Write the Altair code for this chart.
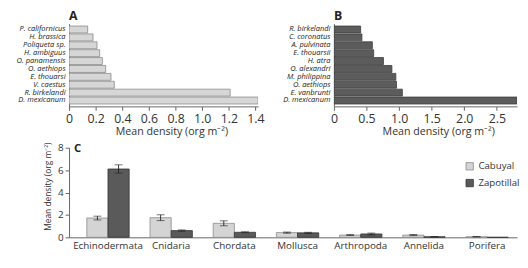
import altair as alt
import pandas as pd

# Panel A (Cabuyal species)
a_species = ["P. californicus", "H. brassica", "Poliqueta sp.", "H. ambiguus", "O. panamensis",
             "O. aethiops", "E. thouarsi", "V. caestus", "R. birkelandi", "D. mexicanum"]
a_density = [0.14, 0.18, 0.21, 0.23, 0.25, 0.275, 0.315, 0.34, 1.21, 1.42]

# Panel B (Zapotillal species)
b_species = ["R. birkelandi", "C. coronatus", "A. pulvinata", "E. thouarsii", "H. atra",
             "O. alexandri", "M. philippina", "O. aethiops", "E. vanbrunti", "D. mexicanum"]
b_density = [0.41, 0.43, 0.59, 0.61, 0.76, 0.89, 0.95, 0.96, 1.05, 2.81]

# Panel C (phyla)
phyla = ["Echinodermata", "Cnidaria", "Chordata", "Mollusca", "Arthropoda", "Annelida", "Porifera"]
sites = ["Cabuyal", "Zapotillal"]
cab_mean = [1.72, 1.75, 1.25, 0.42, 0.20, 0.20, 0.05]
cab_err = [0.17, 0.26, 0.22, 0.05, 0.04, 0.05, 0.02]
zap_mean = [6.10, 0.60, 0.45, 0.40, 0.30, 0.05, 0.0]
zap_err = [0.37, 0.06, 0.04, 0.05, 0.08, 0.02, 0.0]

a_ticks = [0, 0.2, 0.4, 0.6, 0.8, 1.0, 1.2, 1.4]
b_ticks = [0, 0.5, 1.0, 1.5, 2.0, 2.5]
c_ticks = [0, 2, 4, 6, 8]

XTITLE = "Mean density (org m\u207b\u00b2)"
LBL = "datum.value == 0 ? '0' : format(datum.value, '.1f')"


def species_panel(species, dens, letter, fill, stroke, xmax, ticks, width, title_x):
    df = pd.DataFrame({"species": species, "density": dens})
    return alt.Chart(
        df,
        title=alt.Title(letter, anchor="start", frame="group", fontSize=12.5,
                        fontWeight="bold", offset=1, color="#222"),
    ).mark_bar(fill=fill, stroke=stroke, strokeWidth=0.8, clip=True).encode(
        y=alt.Y("species:N", sort=species, title=None,
                scale=alt.Scale(paddingInner=0.12, paddingOuter=0.3),
                axis=alt.Axis(labelFontStyle="italic", labelFontSize=7.6, ticks=False,
                              labelPadding=4, labelColor="#222", labelOverlap=False)),
        x=alt.X("density:Q", scale=alt.Scale(domain=[0, xmax], nice=False), title=XTITLE,
                axis=alt.Axis(values=ticks, labelExpr=LBL, labelFontSize=12.5, tickSize=4,
                              labelPadding=2, titleFontSize=10.8, titlePadding=1,
                              titleX=title_x, labelFlush=False)),
    ).properties(width=width, height=84)


chart_a = species_panel(a_species, a_density, "A", "#d6d6d6", "#8a8a8a", 1.42, a_ticks, 192, 104)
chart_b = species_panel(b_species, b_density, "B", "#5c5c5c", "#3c3c3c", 2.81, b_ticks, 186, 106)

rows = []
for i, p in enumerate(phyla):
    rows.append({"phylum": p, "site": "Cabuyal", "mean": cab_mean[i], "err": cab_err[i]})
    rows.append({"phylum": p, "site": "Zapotillal", "mean": zap_mean[i], "err": zap_err[i]})
dfc = pd.DataFrame(rows)
dfc["lo"] = dfc["mean"] - dfc["err"]
dfc["hi"] = dfc["mean"] + dfc["err"]

x_enc = alt.X("phylum:N", sort=phyla, title=None,
              scale=alt.Scale(paddingInner=0.33, paddingOuter=0.21, align=0.67),
              axis=alt.Axis(ticks=False, labelFontSize=10, labelPadding=3, labelAngle=0,
                            labelColor="#333"))
xo_enc = alt.XOffset("site:N", sort=sites)
y_scale = alt.Scale(domain=[0, 8], nice=False)
y_axis = alt.Axis(values=c_ticks, tickSize=4, labelFontSize=10, labelPadding=2,
                  titleFontSize=8.5, titlePadding=5, titleY=39, labelOverlap=False)

bars = alt.Chart(dfc).mark_bar(strokeWidth=0.8).encode(
    x=x_enc, xOffset=xo_enc,
    y=alt.Y("mean:Q", scale=y_scale, title=XTITLE, axis=y_axis),
    fill=alt.Fill("site:N", scale=alt.Scale(domain=sites, range=["#d4d4d4", "#5a5a5a"]),
                  legend=alt.Legend(title=None, orient="none", legendX=402, legendY=140,
                                    symbolType="square", symbolSize=56,
                                    symbolStrokeColor="#666", symbolStrokeWidth=0.8,
                                    labelFontSize=9.8, labelColor="#333", rowPadding=5,
                                    labelOffset=4)),
    stroke=alt.Stroke("site:N", scale=alt.Scale(domain=sites, range=["#8a8a8a", "#333333"]),
                      legend=None),
)

err_df = dfc[dfc["err"] > 0]
rules = alt.Chart(err_df).mark_rule(color="#222", strokeWidth=0.9).encode(
    x=x_enc, xOffset=xo_enc, y=alt.Y("lo:Q", scale=y_scale, title=XTITLE, axis=y_axis), y2="hi:Q")
caps_hi = alt.Chart(err_df).mark_tick(color="#222", size=8, thickness=0.9).encode(
    x=x_enc, xOffset=xo_enc, y=alt.Y("hi:Q", scale=y_scale, title=XTITLE, axis=y_axis))
caps_lo = alt.Chart(err_df).mark_tick(color="#222", size=8, thickness=0.9).encode(
    x=x_enc, xOffset=xo_enc, y=alt.Y("lo:Q", scale=y_scale, title=XTITLE, axis=y_axis))

letter_c = alt.Chart(pd.DataFrame({"label": ["C"]})).mark_text(
    fontSize=11.5, fontWeight="bold", align="left", baseline="top", color="#222"
).encode(text="label:N", x=alt.value(5), y=alt.value(-5))

chart_c = alt.layer(bars, rules, caps_hi, caps_lo, letter_c).properties(width=455, height=91)

top = alt.hconcat(chart_a, chart_b, spacing=17)
chart = alt.vconcat(top, chart_c, spacing=5).properties(
    padding={"left": 8, "top": 0, "right": 0, "bottom": 0}
).configure(font="Open Sans").configure_view(stroke=None).configure_axis(
    grid=False, domainColor="#666", tickColor="#666", labelColor="#333", titleColor="#333",
    titleFontWeight="normal"
)

chart.save("out.html", embed_options={"renderer": "svg", "actions": False})
